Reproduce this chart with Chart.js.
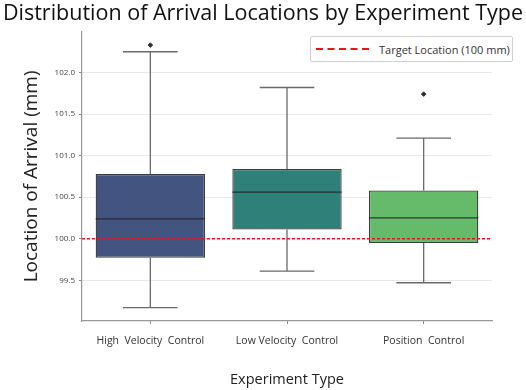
<!DOCTYPE html>
<html>
<head>
<meta charset="utf-8">
<script src="https://cdn.jsdelivr.net/npm/chart.js@4.4.0/dist/chart.umd.min.js"></script>
<style>
  html, body { margin: 0; padding: 0; background: #fff; }
  #wrap { position: relative; width: 526px; height: 390px; }
  #legend {
    position: absolute; left: 310px; top: 36px; width: 201px; height: 24px;
    border: 1px solid #d0d0d0; border-radius: 2px; background: #fff;
    font-family: 'Open Sans', sans-serif; font-size: 11px; color: #333;
    display: flex; align-items: center; box-sizing: content-box;
  }
  #legend svg { margin-left: 5px; margin-right: 7px; }
</style>
</head>
<body>
<div id="wrap">
  <canvas id="chart" width="526" height="390"></canvas>
  <div id="legend">
    <svg width="56" height="10"><line x1="0" y1="5" x2="56" y2="5" stroke="#e8141c" stroke-width="2.2" stroke-dasharray="7,4.5"/></svg>
    <span>Target Location (100 mm)</span>
  </div>
</div>
<script>
// values (mm)
const categories = ['High  Velocity  Control', 'Low Velocity  Control', 'Position  Control'];
const whiskerLow = [99.17, 99.61, 99.47];
const q1 = [99.77, 100.11, 99.95];
const median = [100.24, 100.56, 100.25];
const q3 = [100.78, 100.84, 100.58];
const whiskerHigh = [102.25, 101.82, 101.21];
const outliers = [102.33, null, 101.74];
const yTicks = [99.5, 100.0, 100.5, 101.0, 101.5, 102.0];
const targetValue = 100;

const boxColors = ['rgb(67,84,128)', 'rgb(46,128,120)', 'rgb(102,187,106)'];
const fontFamily = "'Open Sans', sans-serif";

// draws whiskers, caps and medians on top of the floating bars
const boxPlugin = {
  id: 'boxPlugin',
  afterDatasetsDraw(chart) {
    const ctx = chart.ctx;
    const y = chart.scales.y;
    const meta = chart.getDatasetMeta(0);
    ctx.save();
    meta.data.forEach((bar, i) => {
      const x = bar.x;
      const half = bar.width / 2;
      // whiskers
      ctx.strokeStyle = '#6a6a6a';
      ctx.lineWidth = 1.3;
      ctx.beginPath();
      ctx.moveTo(x, y.getPixelForValue(q3[i]));
      ctx.lineTo(x, y.getPixelForValue(whiskerHigh[i]));
      ctx.moveTo(x, y.getPixelForValue(q1[i]));
      ctx.lineTo(x, y.getPixelForValue(whiskerLow[i]));
      // caps
      ctx.moveTo(x - half / 2, y.getPixelForValue(whiskerHigh[i]));
      ctx.lineTo(x + half / 2, y.getPixelForValue(whiskerHigh[i]));
      ctx.moveTo(x - half / 2, y.getPixelForValue(whiskerLow[i]));
      ctx.lineTo(x + half / 2, y.getPixelForValue(whiskerLow[i]));
      ctx.stroke();
      // median
      ctx.strokeStyle = 'rgba(35,35,35,0.85)';
      ctx.lineWidth = 1.3;
      ctx.beginPath();
      ctx.moveTo(x - half, y.getPixelForValue(median[i]));
      ctx.lineTo(x + half, y.getPixelForValue(median[i]));
      ctx.stroke();
    });
    ctx.restore();
  },
  afterDraw(chart) {
    // target reference line
    const ctx = chart.ctx;
    const area = chart.chartArea;
    const py = chart.scales.y.getPixelForValue(targetValue);
    ctx.save();
    ctx.strokeStyle = '#e8141c';
    ctx.lineWidth = 1.5;
    ctx.setLineDash([3, 2]);
    ctx.beginPath();
    ctx.moveTo(area.left, py);
    ctx.lineTo(area.right - 2, py);
    ctx.stroke();
    ctx.restore();
  }
};

new Chart(document.getElementById('chart'), {
  type: 'bar',
  data: {
    labels: categories,
    datasets: [
      {
        type: 'bar',
        label: 'Box',
        data: categories.map((c, i) => [q1[i], q3[i]]),
        backgroundColor: boxColors,
        borderColor: 'rgba(40,40,40,0.9)',
        borderWidth: 1.3,
        borderSkipped: false,
        barPercentage: 0.8,
        categoryPercentage: 1,
        order: 2
      },
      {
        type: 'line',
        label: 'Outliers',
        data: outliers,
        showLine: false,
        pointStyle: 'rectRot',
        pointRadius: 2.3,
        pointBackgroundColor: '#333',
        pointBorderColor: '#333',
        order: 1
      }
    ]
  },
  options: {
    responsive: false,
    animation: false,
    layout: { padding: 0 },
    plugins: {
      legend: { display: false },
      tooltip: { enabled: false },
      title: {
        display: true,
        text: 'Distribution of Arrival Locations by Experiment Type',
        color: '#111',
        font: { family: fontFamily, size: 21.5, weight: 'normal' },
        padding: { top: 1, bottom: 5 }
      }
    },
    scales: {
      x: {
        offset: true,
        grid: { offset: false, drawOnChartArea: false, tickLength: 3, tickColor: '#888' },
        border: { color: '#999', width: 1.2 },
        ticks: { color: '#333', font: { family: fontFamily, size: 10.5 }, padding: 11, maxRotation: 0 },
        title: {
          display: true,
          text: 'Experiment Type',
          color: '#222',
          font: { family: fontFamily, size: 14.5 },
          padding: { top: 0, bottom: 1 }
        },
        afterFit(scale) { scale.height = 69; }
      },
      y: {
        min: 99.01,
        max: 102.49,
        z: 1,
        afterBuildTicks(scale) { scale.ticks = yTicks.map(v => ({ value: v })); },
        grid: { color: 'rgba(215,215,215,0.55)', tickLength: 3, tickColor: '#888' },
        border: { color: '#999', width: 1.2 },
        ticks: { color: '#444', font: { family: fontFamily, size: 8 }, padding: 4, callback: v => v.toFixed(1) },
        title: {
          display: true,
          text: 'Location of Arrival (mm)',
          color: '#222',
          font: { family: fontFamily, size: 19 },
          padding: { top: 20, bottom: 0 }
        },
        afterFit(scale) { scale.width = 82; }
      },
      // empty spacer on the right so the plot ends where the reference does
      spacer: {
        type: 'linear',
        axis: 'y',
        position: 'right',
        grid: { drawOnChartArea: false, drawTicks: false },
        border: { display: false },
        ticks: { display: false },
        afterFit(scale) { scale.width = 34; }
      }
    }
  },
  plugins: [boxPlugin]
});
</script>
</body>
</html>
